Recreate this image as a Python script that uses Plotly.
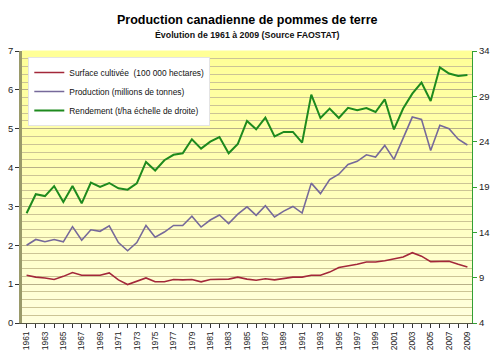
import plotly.graph_objects as go

years = list(range(1961, 2010))

surface = [1.23, 1.18, 1.16, 1.12, 1.20, 1.30, 1.23, 1.23, 1.23, 1.29,
           1.11, 0.99, 1.07, 1.16, 1.06, 1.06, 1.12, 1.11, 1.12, 1.06,
           1.12, 1.13, 1.13, 1.18, 1.13, 1.10, 1.14, 1.11, 1.14, 1.18,
           1.18, 1.23, 1.23, 1.31, 1.43, 1.47, 1.51, 1.57, 1.57, 1.60,
           1.66, 1.70, 1.81, 1.72, 1.58, 1.59, 1.59, 1.51, 1.44]

production = [2.00, 2.15, 2.09, 2.15, 2.09, 2.48, 2.13, 2.40, 2.36, 2.50,
              2.07, 1.86, 2.07, 2.51, 2.21, 2.34, 2.51, 2.51, 2.75, 2.47,
              2.65, 2.78, 2.56, 2.80, 2.99, 2.77, 3.02, 2.73, 2.88, 3.00,
              2.83, 3.60, 3.33, 3.69, 3.83, 4.08, 4.16, 4.33, 4.27, 4.57,
              4.21, 4.74, 5.30, 5.24, 4.44, 5.09, 5.00, 4.73, 4.58]

rendement = [16.1, 18.2, 18.0, 19.1, 17.35, 19.1, 17.2, 19.48, 19.02, 19.44,
             18.85, 18.71, 19.4, 21.76, 20.82, 21.95, 22.55, 22.72, 24.26, 23.23,
             24.0, 24.51, 22.72, 23.75, 26.28, 25.36, 26.65, 24.59, 25.07, 25.07,
             23.9, 29.19, 26.61, 27.65, 26.61, 27.74, 27.46, 27.71, 27.27, 28.67,
             25.35, 27.65, 29.3, 30.51, 28.48, 32.2, 31.51, 31.24, 31.35]

names = ["Surface cultivée  (100 000 hectares)",
         "Production (millions de tonnes)",
         "Rendement (t/ha échelle de droite)"]

tick_text = [str(y) if (y - 1961) % 2 == 0 else "" for y in years]

FONT = "Liberation Sans, Arial, sans-serif"

fig = go.Figure()
fig.add_trace(go.Scatter(x=years, y=surface, name=names[0], mode="lines",
                         line=dict(color="#A3283A", width=1.6)))
fig.add_trace(go.Scatter(x=years, y=production, name=names[1], mode="lines",
                         line=dict(color="#76699A", width=1.6)))
fig.add_trace(go.Scatter(x=years, y=rendement, name=names[2], mode="lines",
                         line=dict(color="#1E8A1E", width=2),
                         yaxis="y2"))

# vertical yellow gradient background
shapes = []
n = 50
def mix(c1, c2, t):
    return "rgb(%d,%d,%d)" % tuple(round(a + (b - a) * t) for a, b in zip(c1, c2))
bottom_c = (255, 255, 222)
top_c = (255, 255, 150)
for i in range(n):
    shapes.append(dict(type="rect", xref="paper", yref="paper",
                       x0=0, x1=1, y0=i / n, y1=(i + 1) / n + 0.002,
                       fillcolor=mix(bottom_c, top_c, (i + 0.5) / n),
                       line=dict(width=0), layer="below"))

fig.update_layout(
    width=500, height=358,
    margin=dict(l=22, r=28, t=51, b=35, autoexpand=False),
    paper_bgcolor="white",
    plot_bgcolor="#FFFFCC",
    font=dict(family=FONT, size=10, color="#222222"),
    shapes=shapes,
    showlegend=True,
    legend=dict(x=0.014, y=0.978, xanchor="left", yanchor="top",
                bgcolor="white", bordercolor="#E4E4E4", borderwidth=1,
                font=dict(family=FONT, size=8.4, color="#111111"),
                itemwidth=30),
    annotations=[
        dict(text="<b>Production canadienne de pommes de terre</b>",
             xref="paper", yref="paper", x=0.5, y=1, xanchor="center",
             yshift=31, yanchor="middle", showarrow=False,
             font=dict(family=FONT, size=12.5, color="#000000")),
        dict(text="<b>Évolution de 1961 à 2009 (Source FAOSTAT)</b>",
             xref="paper", yref="paper", x=0.5, y=1, xanchor="center",
             yshift=16, yanchor="middle", showarrow=False,
             font=dict(family=FONT, size=8.8, color="#111111")),
    ],
    xaxis=dict(range=[1960.5, 2009.5], tickmode="array", tickvals=years,
               ticktext=tick_text, tickangle=-90, ticks="outside", ticklen=4,
               tickcolor="#333333", showgrid=False, zeroline=False,
               showline=True, linecolor="#555544", linewidth=1,
               automargin=False,
               tickfont=dict(size=8.5, color="#222222")),
    yaxis=dict(range=[0, 7], dtick=1, ticks="outside", ticklen=4,
               tickcolor="#333333", showgrid=True, gridcolor="#B8B088",
               gridwidth=1, zeroline=False, showline=True,
               linecolor="#9A9A6A", linewidth=2.5, automargin=False,
               minor=dict(dtick=0.2, showgrid=True, gridcolor="#CCC495",
                          gridwidth=1, ticks=""),
               tickfont=dict(size=9.5, color="#222222")),
    yaxis2=dict(range=[4, 34], tickmode="array",
                tickvals=[4, 9, 14, 19, 24, 29, 34], overlaying="y",
                side="right", anchor="x", ticks="outside", ticklen=4,
                tickcolor="#33A033", showgrid=False, zeroline=False,
                showline=True, linecolor="#33A033", linewidth=1,
                automargin=False,
                tickfont=dict(size=9.5, color="#222222")),
)

fig.write_html("out.html",
               config={"displayModeBar": False},
               post_script="document.body.style.margin='0';"
                           "document.body.style.overflow='hidden';")
